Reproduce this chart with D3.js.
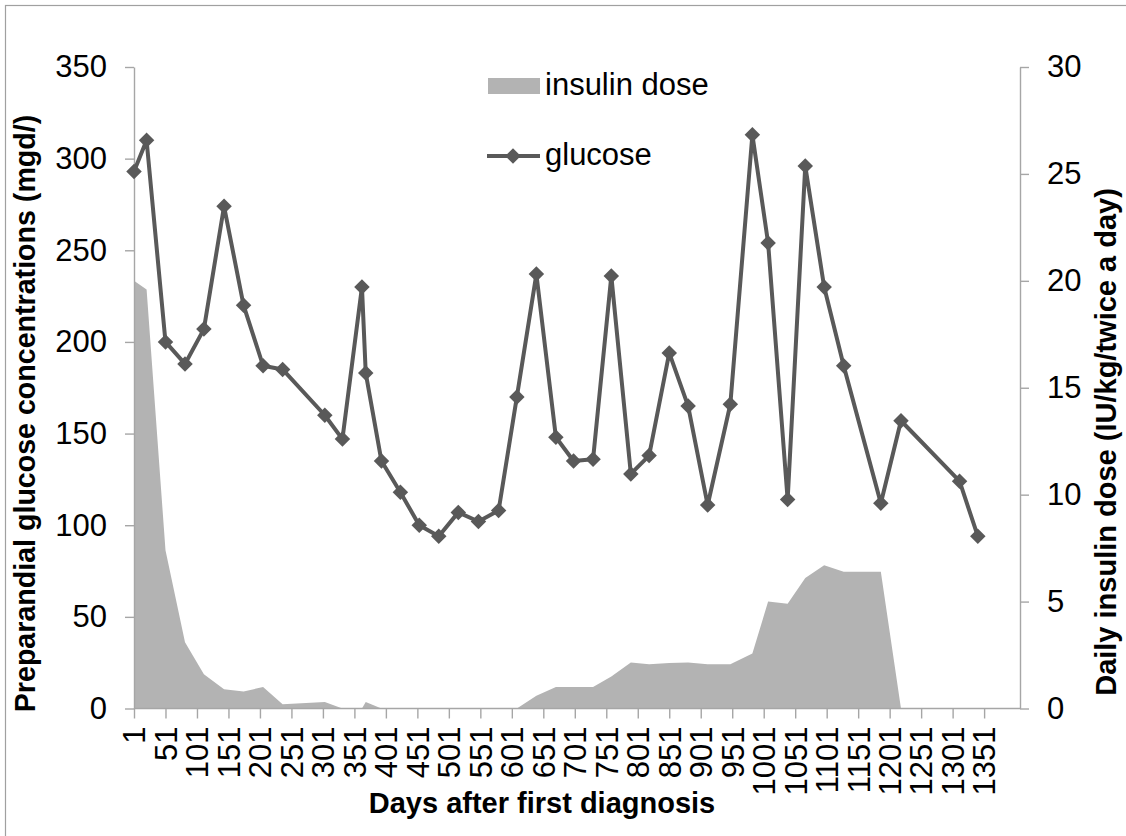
<!DOCTYPE html>
<html>
<head>
<meta charset="utf-8">
<script src="https://cdn.jsdelivr.net/npm/d3@7"></script>
<style>
  html, body { margin: 0; padding: 0; background: #ffffff; }
  svg { display: block; }
  text { font-family: "Liberation Sans", Arial, sans-serif; fill: #000; }
</style>
</head>
<body>
<svg id="chart" width="1126" height="836"></svg>
<script>
// ---- data ----
const days = [1, 21, 51, 82, 112, 144, 175, 206, 237, 304,
              332, 363, 369, 394, 424, 454, 485, 516, 548, 580,
              609, 640, 671, 699, 730, 759, 790, 819, 851, 881,
              912, 948, 983, 1008, 1039, 1067, 1097, 1128, 1187, 1219,
              1312, 1341];
const glucose = [293, 310, 200, 188, 207, 274, 220, 187, 185, 160,
                 147, 230, 183, 135, 118, 100, 94, 107, 102, 108,
                 170, 237, 148, 135, 136, 236, 128, 138, 194, 165,
                 111, 166, 313, 254, 114, 296, 230, 187, 112, 157,
                 124, 94];
const insulin = [20, 19.6, 7.4, 3.1, 1.6, 0.9, 0.8, 1.0, 0.2, 0.3,
                 0, 0, 0.3, 0, 0, 0, 0, 0, 0, 0,
                 0, 0.6, 1.0, 1.0, 1.0, 1.5, 2.15, 2.07, 2.13, 2.15,
                 2.07, 2.07, 2.57, 5.0, 4.9, 6.1, 6.7, 6.4, 6.4, 0,
                 0, 0];
const xTickValues = d3.range(1, 1352, 50);
const leftTickValues = [0, 50, 100, 150, 200, 250, 300, 350];
const rightTickValues = [0, 5, 10, 15, 20, 25, 30];
const seriesNames = ["insulin dose", "glucose"];
const xTitle = "Days after first diagnosis";
const yLeftTitle = "Preparandial glucose concentrations (mgd/)";
const yRightTitle = "Daily insulin dose (IU/kg/twice a day)";

// ---- layout ----
const svg = d3.select("#chart");
const plotL = 134, plotR = 1020, plotT = 67, plotB = 708.5;
const axisColor = "#a6a6a6";
const lineColor = "#595959";
const areaColor = "#b3b3b3";

// outer frame
svg.append("rect").attr("x", 5.5).attr("y", 5.5).attr("width", 1140).attr("height", 850)
  .attr("fill", "none").attr("stroke", "#a0a0a0").attr("stroke-width", 1.2);

const x = d3.scaleLinear().domain([1, 1408]).range([plotL, plotR]);
const yL = d3.scaleLinear().domain([0, 350]).range([plotB, plotT]);
const yR = d3.scaleLinear().domain([0, 30]).range([plotB, plotT]);

const data = days.map((d, i) => ({day: d, g: glucose[i], ins: insulin[i]}));

// insulin area
const area = d3.area().x(d => x(d.day)).y0(yR(0)).y1(d => yR(d.ins));
svg.append("path").datum(data).attr("d", area).attr("fill", areaColor);

// axes
function styleAxis(g) {
  g.selectAll(".domain").attr("stroke", axisColor).attr("stroke-width", 1.4);
  g.selectAll(".tick line").attr("stroke", axisColor).attr("stroke-width", 1.4);
  g.selectAll("text").attr("font-family", "Liberation Sans, Arial, sans-serif").attr("fill", "#000");
}

const gL = svg.append("g").attr("transform", `translate(${plotL},0)`)
  .call(d3.axisLeft(yL).tickValues(leftTickValues).tickSize(9).tickSizeOuter(0).tickPadding(18));
styleAxis(gL);
gL.selectAll("text").attr("font-size", 31);

const gR = svg.append("g").attr("transform", `translate(${plotR},0)`)
  .call(d3.axisRight(yR).tickValues(rightTickValues).tickSize(9).tickSizeOuter(0).tickPadding(18));
styleAxis(gR);
gR.selectAll("text").attr("font-size", 31);

const gX = svg.append("g").attr("transform", `translate(0,${plotB})`)
  .call(d3.axisBottom(x).tickValues(xTickValues).tickFormat(d3.format("d")).tickSize(10).tickSizeOuter(0));
styleAxis(gX);
gX.selectAll(".domain").attr("d", `M${plotL},0H${plotR}`);
gX.selectAll("text")
  .attr("font-size", 31)
  .attr("text-anchor", "end")
  .attr("transform", "rotate(-90)")
  .attr("x", -18)
  .attr("y", 0)
  .attr("dy", "0.35em");

// glucose line
const line = d3.line().x(d => x(d.day)).y(d => yL(d.g));
svg.append("path").datum(data).attr("d", line)
  .attr("fill", "none").attr("stroke", lineColor).attr("stroke-width", 4)
  .attr("stroke-linejoin", "round");

const diamond = d3.symbol().type(d3.symbolSquare).size(120);
svg.append("g").selectAll("path").data(data).join("path")
  .attr("d", diamond)
  .attr("transform", d => `translate(${x(d.day)},${yL(d.g)}) rotate(45)`)
  .attr("fill", lineColor);

// titles
svg.append("text").attr("x", (367 + 717) / 2).attr("y", 813)
  .attr("text-anchor", "middle").attr("font-size", 29).attr("font-weight", "bold")
  .text(xTitle);
svg.append("text").attr("transform", `translate(35,${(712 + 115) / 2}) rotate(-90)`)
  .attr("text-anchor", "middle").attr("font-size", 28.6).attr("font-weight", "bold")
  .text(yLeftTitle);
svg.append("text").attr("transform", `translate(1116,${(697 + 187) / 2}) rotate(-90)`)
  .attr("text-anchor", "middle").attr("font-size", 29).attr("font-weight", "bold")
  .text(yRightTitle);

// legend
const leg = svg.append("g");
leg.append("rect").attr("x", 488).attr("y", 78).attr("width", 52).attr("height", 16).attr("fill", areaColor);
leg.append("text").attr("x", 545).attr("y", 95).attr("font-size", 31).text(seriesNames[0]);
leg.append("line").attr("x1", 487).attr("x2", 540).attr("y1", 156).attr("y2", 156)
  .attr("stroke", lineColor).attr("stroke-width", 4);
leg.append("path").attr("d", diamond).attr("transform", "translate(513,156) rotate(45)").attr("fill", lineColor);
leg.append("text").attr("x", 545).attr("y", 165).attr("font-size", 31).text(seriesNames[1]);
</script>
</body>
</html>
